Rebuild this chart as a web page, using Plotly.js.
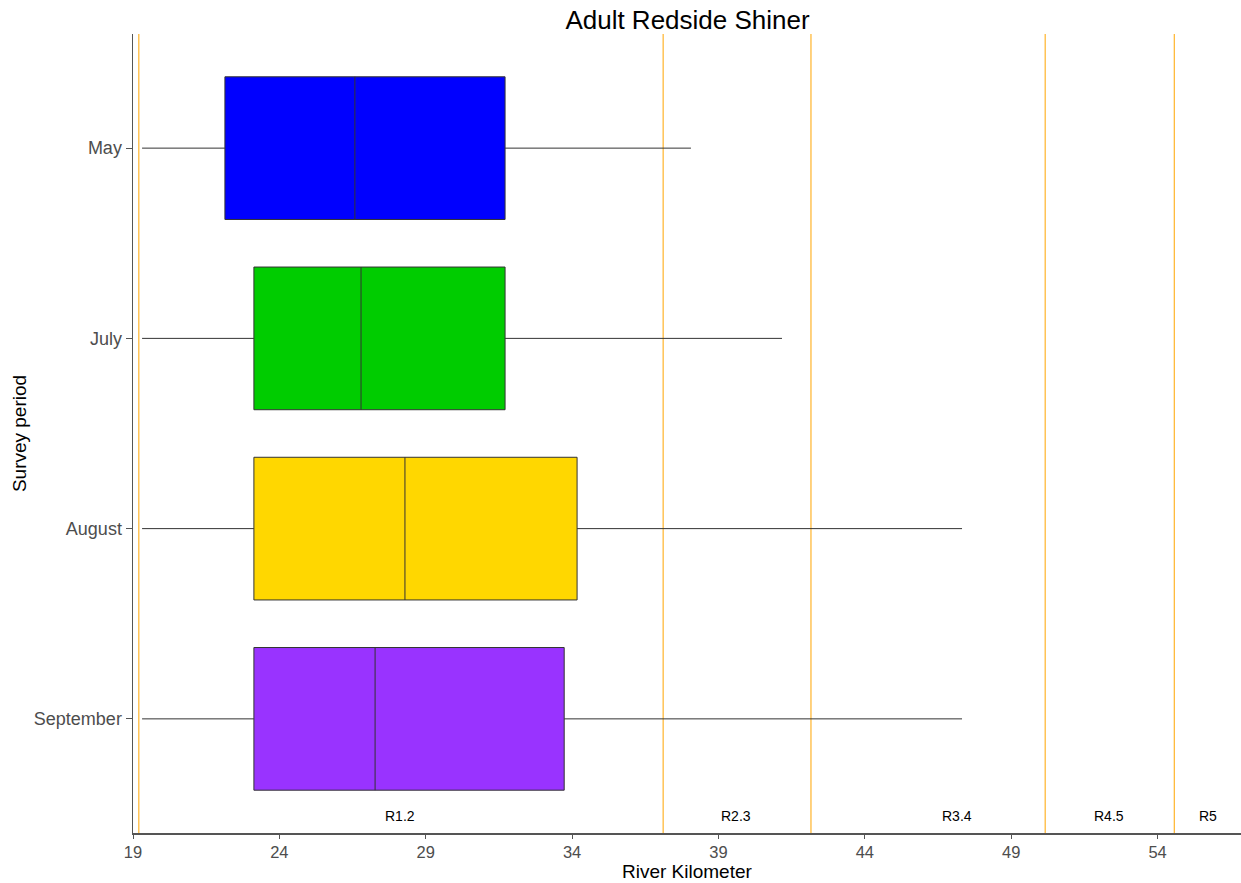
<!DOCTYPE html>
<html>
<head>
<meta charset="utf-8">
<script src="https://cdn.plot.ly/plotly-3.0.1.min.js"></script>
<style>html,body{margin:0;padding:0;background:#fff;}#chart{width:1241px;height:883px;}</style>
</head>
<body>
<div id="chart"></div>
<script>
// Survey periods (bottom to top)
const periods = ["September", "August", "July", "May"];
const colors = ["#9933FF", "#FFD700", "#00CC00", "#0000FF"];
const lowerWhisker = [19.31, 19.31, 19.31, 19.31];
const q1 = [23.13, 23.13, 23.13, 22.14];
const median = [27.27, 28.29, 26.79, 26.58];
const q3 = [33.73, 34.17, 31.71, 31.71];
const upperWhisker = [47.32, 47.32, 41.17, 38.06];

// Reach boundaries (orange lines) and reach labels
const reachBounds = [19.2, 37.11, 42.16, 50.16, 54.57];
const reachLabels = ["R1.2", "R2.3", "R3.4", "R4.5", "R5"];
const reachLabelX = [28.12, 39.6, 47.15, 52.35, 55.73];

const xTicks = [19, 24, 29, 34, 39, 44, 49, 54];

const traces = periods.map((p, i) => ({
  type: "box",
  orientation: "h",
  y: [p],
  q1: [q1[i]],
  median: [median[i]],
  q3: [q3[i]],
  lowerfence: [lowerWhisker[i]],
  upperfence: [upperWhisker[i]],
  width: 0.75,
  whiskerwidth: 0,
  fillcolor: colors[i],
  line: {color: "#333333", width: 1},
  boxpoints: false,
  showlegend: false,
  hoverinfo: "x"
}));

const shapes = reachBounds.map(v => ({
  type: "line", xref: "x", yref: "paper",
  x0: v, x1: v, y0: 0, y1: 1,
  line: {color: "#FFA500", width: 1},
  layer: "below"
}));

const annotations = reachLabels.map((t, i) => ({
  x: reachLabelX[i], y: -0.51, xref: "x", yref: "y",
  text: t, showarrow: false,
  font: {family: "Liberation Sans, Arial, sans-serif", size: 14, color: "#000000"}
}));
// x-axis title as an annotation for precise placement
annotations.push({
  x: 0.5, y: -0.0488, xref: "paper", yref: "paper",
  xanchor: "center", yanchor: "middle", borderpad: 0,
  text: "River Kilometer", showarrow: false,
  font: {family: "Liberation Sans, Arial, sans-serif", size: 19, color: "#000000"}
});

const layout = {
  width: 1241, height: 883,
  paper_bgcolor: "#ffffff", plot_bgcolor: "#ffffff",
  margin: {l: 133, r: 0, t: 34, b: 50},
  title: {text: "Adult Redside Shiner", x: 0.554, xanchor: "center", y: 0.978, yanchor: "middle",
          font: {family: "Liberation Sans, Arial, sans-serif", size: 26, color: "#000000"}},
  xaxis: {
    range: [19, 56.85], tickvals: xTicks, ticktext: xTicks.map(String),
    showgrid: false, zeroline: false,
    showline: true, linecolor: "#555555", linewidth: 1.5,
    ticks: "outside", ticklen: 4, tickcolor: "#555555",
    tickfont: {family: "Liberation Sans, Arial, sans-serif", size: 16.5, color: "#4D4D4D"}
  },
  yaxis: {
    type: "category", categoryorder: "array", categoryarray: periods,
    range: [-0.6, 3.6],
    showgrid: false, zeroline: false,
    showline: true, linecolor: "#555555", linewidth: 1.5,
    ticks: "outside", ticklen: 6, tickcolor: "#555555",
    tickfont: {family: "Liberation Sans, Arial, sans-serif", size: 18, color: "#4D4D4D"},
    title: {text: "Survey period", standoff: 2,
            font: {family: "Liberation Sans, Arial, sans-serif", size: 19, color: "#000000"}}
  },
  shapes: shapes,
  annotations: annotations
};

Plotly.newPlot("chart", traces, layout, {displayModeBar: false, staticPlot: true});
</script>
</body>
</html>
